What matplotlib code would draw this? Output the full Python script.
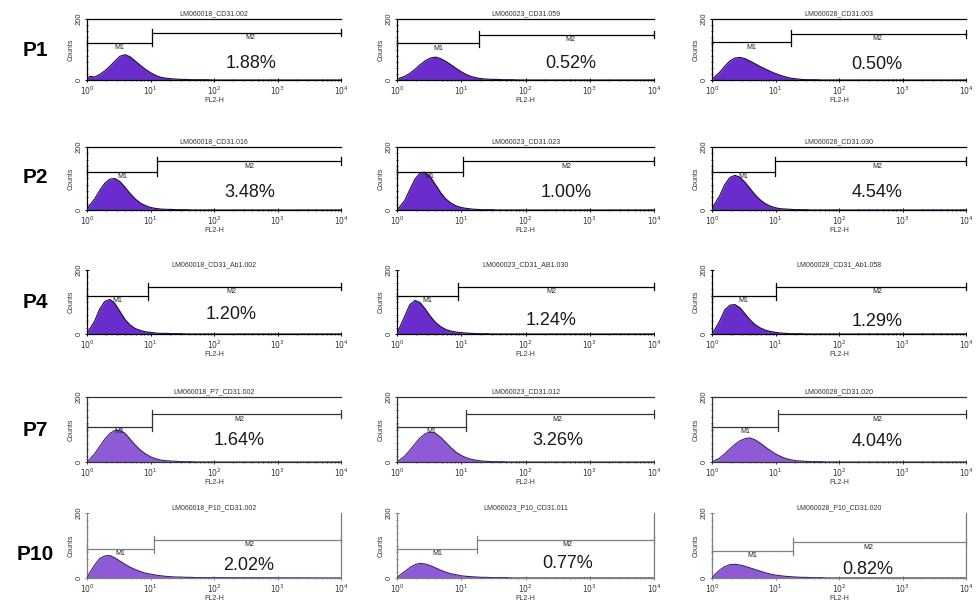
import numpy as np
import matplotlib
matplotlib.use("Agg")
import matplotlib.pyplot as plt
from matplotlib.ticker import FixedLocator, NullFormatter, LogLocator

plt.rcParams['font.family'] = ['Liberation Sans', 'DejaVu Sans']

# ---------------- data ----------------
row_labels = ["P1", "P2", "P4", "P7", "P10"]

titles = [
    ["LM060018_CD31.002", "LM060023_CD31.059", "LM060028_CD31.003"],
    ["LM060018_CD31.016", "LM060023_CD31.023", "LM060028_CD31.030"],
    ["LM060018_CD31_Ab1.002", "LM060023_CD31_AB1.030", "LM060028_CD31_Ab1.058"],
    ["LM060018_P7_CD31.002", "LM060023_CD31.012", "LM060028_CD31.020"],
    ["LM060018_P10_CD31.002", "LM060023_P10_CD31.011", "LM060028_P10_CD31.020"],
]

percents = [
    ["1.88%", "0.52%", "0.50%"],
    ["3.48%", "1.00%", "4.54%"],
    ["1.20%", "1.24%", "1.29%"],
    ["1.64%", "3.26%", "4.04%"],
    ["2.02%", "0.77%", "0.82%"],
]

# gate position between M1 and M2 (FL2-H channel value)
gates = [
    [10.5, 19.0, 17.6],
    [12.6, 10.5, 9.8],
    [9.1, 8.9, 10.0],
    [10.7, 11.8, 11.0],
    [11.2, 17.8, 19.0],
]

# marker bar heights (counts): M1, M2
m1_heights = [
    [122, 120, 123],
    [120, 120, 120],
    [119, 119, 119],
    [108, 108, 108],
    [89, 89, 84],
]
m2_heights = [
    [155, 149, 151],
    [155, 155, 155],
    [148, 148, 148],
    [148, 148, 148],
    [118, 118, 110],
]

# percentage label positions (log10 FL2-H, counts)
pct_x = [
    [2.58, 2.70, 2.60],
    [2.56, 2.63, 2.60],
    [2.27, 2.40, 2.60],
    [2.40, 2.50, 2.60],
    [2.55, 2.65, 2.46],
]
pct_y = [
    [55, 55, 52],
    [55, 55, 55],
    [62, 42, 40],
    [65, 65, 62],
    [40, 45, 26],
]

# histogram: log10(FL2-H) bin centres and counts
log_fl2 = [0.04, 0.12, 0.20, 0.28, 0.36, 0.44, 0.52, 0.60, 0.68, 0.76,
           0.84, 0.92, 1.00, 1.08, 1.16, 1.24, 1.32, 1.40, 1.48, 1.56,
           1.64, 1.72, 1.80, 1.88, 1.96]

counts = [
    [
        [12, 10, 18, 30, 45, 62, 78, 83, 76, 62, 48, 35, 24, 15, 9, 6, 4, 3, 2, 2, 1, 1, 1, 1, 0],
        [6, 12, 22, 35, 50, 63, 72, 75, 70, 61, 50, 38, 27, 18, 11, 7, 4, 3, 2, 2, 1, 1, 1, 0, 0],
        [10, 25, 45, 62, 72, 74, 70, 62, 53, 44, 36, 28, 21, 15, 10, 6, 4, 2, 1, 1, 1, 0, 0, 0, 0],
    ],
    [
        [15, 35, 62, 85, 98, 100, 90, 72, 52, 35, 22, 14, 8, 5, 3, 2, 2, 1, 1, 1, 0, 0, 0, 0, 0],
        [10, 30, 65, 98, 118, 120, 105, 80, 55, 35, 22, 13, 8, 5, 3, 2, 1, 1, 1, 0, 0, 0, 0, 0, 0],
        [18, 45, 80, 103, 110, 104, 88, 68, 48, 32, 20, 12, 7, 4, 3, 2, 1, 1, 1, 0, 0, 0, 0, 0, 0],
    ],
    [
        [15, 40, 78, 102, 108, 95, 70, 45, 28, 17, 11, 7, 5, 3, 2, 2, 1, 1, 1, 0, 0, 0, 0, 0, 0],
        [20, 55, 92, 105, 98, 78, 55, 36, 23, 14, 9, 6, 4, 3, 2, 1, 1, 1, 0, 0, 0, 0, 0, 0, 0],
        [12, 40, 75, 90, 92, 82, 63, 44, 29, 19, 12, 8, 5, 3, 2, 1, 1, 1, 0, 0, 0, 0, 0, 0, 0],
    ],
    [
        [8, 25, 48, 70, 88, 97, 98, 88, 70, 52, 37, 25, 16, 10, 6, 4, 3, 2, 1, 1, 1, 0, 0, 0, 0],
        [6, 18, 36, 56, 74, 87, 92, 88, 76, 60, 44, 30, 20, 13, 8, 5, 3, 2, 1, 1, 1, 0, 0, 0, 0],
        [4, 12, 25, 40, 54, 65, 72, 74, 68, 58, 46, 35, 25, 17, 11, 7, 4, 3, 2, 1, 1, 1, 0, 0, 0],
    ],
    [
        [15, 40, 60, 68, 69, 62, 52, 42, 33, 26, 20, 15, 12, 9, 7, 5, 4, 3, 3, 2, 2, 1, 1, 1, 1],
        [8, 20, 32, 41, 45, 43, 38, 31, 24, 18, 13, 10, 7, 5, 4, 3, 2, 2, 1, 1, 1, 1, 0, 0, 0],
        [10, 24, 35, 41, 42, 40, 36, 31, 26, 21, 16, 12, 9, 7, 5, 4, 3, 2, 2, 1, 1, 1, 0, 0, 0],
    ],
]

# ---------------- layout ----------------
W, H = 980, 610
col_px = [(87, 341), (397, 654), (712, 966)]
row_px = [(19, 80), (147, 210), (270, 334), (397, 462), (513, 578)]
row_label_y = [50, 178, 302, 430, 555]

fill_colors = ["#6a2ccc", "#6a2ccc", "#6a2ccc", "#8e5ad6", "#8e5ad6"]
edge_colors = ["#1a0b3a", "#1a0b3a", "#1a0b3a", "#3a2366", "#3a2366"]
axis_colors = ["black", "black", "black", "#333333", "#808080"]

fig = plt.figure(figsize=(W / 100, H / 100), dpi=100)
fig.patch.set_facecolor("white")

for r in range(5):
    fig.text(35 / W, 1 - row_label_y[r] / H, row_labels[r], fontsize=15,
             fontweight="bold", ha="center", va="center", color="black")
    for c in range(3):
        x0, x1 = col_px[c]
        y0, y1 = row_px[r]
        ax = fig.add_axes([x0 / W, 1 - y1 / H, (x1 - x0) / W, (y1 - y0) / H])
        ac = axis_colors[r]
        xs = np.power(10.0, np.array(log_fl2))
        ys = np.array(counts[r][c], dtype=float)
        xx = np.concatenate([[1.0], xs, [10 ** 4]])
        yy = np.concatenate([[0.0], ys, [0.0]])
        ax.fill_between(xx, 0, yy, color=fill_colors[r], lw=0, zorder=2)
        ax.plot(xx, yy, color=edge_colors[r], lw=0.8, zorder=3)

        ax.set_xscale("log")
        ax.set_xlim(1, 1e4)
        ax.set_ylim(0, 200)

        # markers
        g = gates[r][c]
        h1 = m1_heights[r][c]
        h2 = m2_heights[r][c]
        mc = ac
        ax.plot([1.0, g], [h1, h1], color=mc, lw=0.9, zorder=4, clip_on=False)
        ax.plot([1.0, 1.0], [h1 - 10, h1 + 10], color=mc, lw=0.9, zorder=4, clip_on=False)
        ax.plot([g, g], [h1 - 12, h2 + 12], color=mc, lw=0.9, zorder=4, clip_on=False)
        ax.plot([g, 1e4], [h2, h2], color=mc, lw=0.9, zorder=4, clip_on=False)
        ax.plot([1e4, 1e4], [h2 - 12, h2 + 12], color=mc, lw=0.9, zorder=4, clip_on=False)
        ax.text(10 ** (np.log10(g) / 2), h1 - 4, "M1", fontsize=5, ha="center",
                va="top", color="#222222", zorder=5)
        ax.text(10 ** pct_x[r][c], h2 - 5, "M2", fontsize=5, ha="center",
                va="top", color="#222222", zorder=5)
        ax.text(10 ** pct_x[r][c], pct_y[r][c], percents[r][c], fontsize=13,
                ha="center", va="center", color="#1a1a1a", zorder=5)

        # spines
        for s in ax.spines.values():
            s.set_color(ac)
            s.set_linewidth(0.9)
        if r in (0, 1, 3):
            ax.spines["top"].set_visible(True)
            ax.spines["right"].set_visible(False)
        elif r == 2:
            ax.spines["top"].set_visible(False)
            ax.spines["right"].set_visible(False)
        else:
            ax.spines["top"].set_visible(False)
            ax.spines["right"].set_visible(True)

        # ticks
        ax.xaxis.set_major_locator(FixedLocator([1, 10, 100, 1000, 10000]))
        ax.xaxis.set_minor_locator(LogLocator(base=10, subs=np.arange(2, 10), numticks=20))
        ax.xaxis.set_minor_formatter(NullFormatter())
        ax.set_xticklabels([r"$10^0$", r"$10^1$", r"$10^2$", r"$10^3$", r"$10^4$"])
        ax.yaxis.set_major_locator(FixedLocator([0, 200]))
        ax.yaxis.set_minor_locator(FixedLocator(list(range(20, 200, 20))))
        ax.tick_params(axis="both", which="major", length=3, width=0.7,
                       direction="inout", labelsize=5.5, pad=1.5, colors=ac,
                       labelcolor="#333333")
        ax.tick_params(axis="both", which="minor", length=2, width=0.5,
                       direction="inout", colors=ac)
        ax.tick_params(axis="y", labelrotation=90)
        for lbl in ax.get_yticklabels():
            lbl.set_va("center")
        ax.set_xlabel("FL2-H", fontsize=5, labelpad=0, color="#333333")
        ax.set_ylabel("Counts", fontsize=5, labelpad=1, color="#333333")
        ax.set_title(titles[r][c], fontsize=5, pad=3, color="#333333")
        ax.set_facecolor("white")

fig.savefig("out.png", dpi=100, facecolor="white")
